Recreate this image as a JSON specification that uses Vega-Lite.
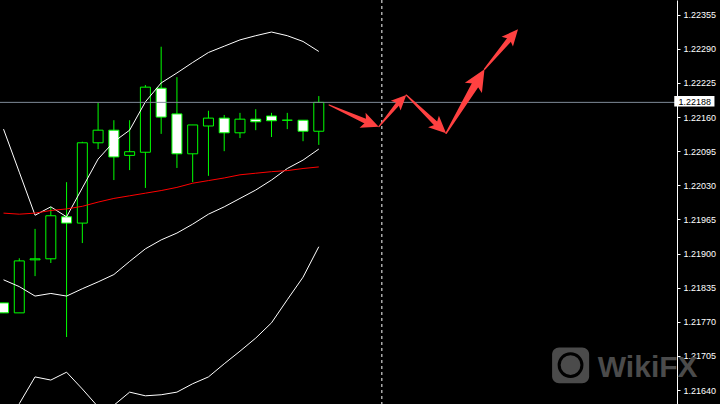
{
  "$schema": "https://vega.github.io/schema/vega-lite/v6.json",
  "width": 677,
  "height": 404,
  "autosize": {"type": "none"},
  "padding": {"left": 0, "top": 0, "right": 43, "bottom": 0},
  "background": "#000000",
  "config": {
    "view": {"stroke": null},
    "axis": {"grid": false, "domainColor": "#ffffff", "tickColor": "#ffffff", "tickSize": 3, "labelColor": "#ffffff", "labelFont": "Liberation Sans", "labelFontSize": 9, "labelPadding": 3, "labelFlush": false, "labelOverlap": false, "zindex": 1}
  },
  "datasets": {
    "candles": [
      {"k": -1, "o": 1.21806, "h": 1.21806, "l": 1.21787, "c": 1.21787},
      {"k": 0, "o": 1.21787, "h": 1.21891, "l": 1.21787, "c": 1.21886},
      {"k": 1, "o": 1.21888, "h": 1.21947, "l": 1.21857, "c": 1.2189},
      {"k": 2, "o": 1.2189, "h": 1.21989, "l": 1.21882, "c": 1.21972},
      {"k": 3, "o": 1.2197, "h": 1.22036, "l": 1.21741, "c": 1.21958},
      {"k": 4, "o": 1.21958, "h": 1.22113, "l": 1.2192, "c": 1.22111},
      {"k": 5, "o": 1.22111, "h": 1.22187, "l": 1.22099, "c": 1.22135},
      {"k": 6, "o": 1.22135, "h": 1.22154, "l": 1.2204, "c": 1.22084},
      {"k": 7, "o": 1.22087, "h": 1.22154, "l": 1.22059, "c": 1.22094},
      {"k": 8, "o": 1.22093, "h": 1.22221, "l": 1.22025, "c": 1.22217},
      {"k": 9, "o": 1.22215, "h": 1.22294, "l": 1.22128, "c": 1.2216},
      {"k": 10, "o": 1.22166, "h": 1.22236, "l": 1.22063, "c": 1.2209},
      {"k": 11, "o": 1.2209, "h": 1.22145, "l": 1.22036, "c": 1.22145},
      {"k": 12, "o": 1.22143, "h": 1.22172, "l": 1.22048, "c": 1.22158},
      {"k": 13, "o": 1.22158, "h": 1.22164, "l": 1.22095, "c": 1.2213},
      {"k": 14, "o": 1.2213, "h": 1.22168, "l": 1.2212, "c": 1.22156},
      {"k": 15, "o": 1.22156, "h": 1.22175, "l": 1.22135, "c": 1.22151},
      {"k": 16, "o": 1.22162, "h": 1.22168, "l": 1.22122, "c": 1.22153},
      {"k": 17, "o": 1.22154, "h": 1.22168, "l": 1.22137, "c": 1.22154},
      {"k": 18, "o": 1.22154, "h": 1.22154, "l": 1.22114, "c": 1.22133},
      {"k": 19, "o": 1.22133, "h": 1.222, "l": 1.22107, "c": 1.22188}
    ],
    "bands": [
      {"k": -1, "up": 1.22137, "mid": 1.2185, "lo": 1.2156, "ma": 1.21977},
      {"k": 0, "up": 1.22055, "mid": 1.21837, "lo": 1.21614, "ma": 1.21975},
      {"k": 1, "up": 1.21973, "mid": 1.21819, "lo": 1.21665, "ma": 1.21977},
      {"k": 2, "up": 1.21989, "mid": 1.21824, "lo": 1.21659, "ma": 1.21982},
      {"k": 3, "up": 1.2197, "mid": 1.21819, "lo": 1.21674, "ma": 1.21985},
      {"k": 4, "up": 1.22025, "mid": 1.21833, "lo": 1.21642, "ma": 1.2199},
      {"k": 5, "up": 1.2208, "mid": 1.21846, "lo": 1.21608, "ma": 1.21998},
      {"k": 6, "up": 1.22113, "mid": 1.2186, "lo": 1.21611, "ma": 1.22005},
      {"k": 7, "up": 1.22135, "mid": 1.21885, "lo": 1.21636, "ma": 1.2201},
      {"k": 8, "up": 1.22189, "mid": 1.21909, "lo": 1.21629, "ma": 1.22015},
      {"k": 9, "up": 1.22225, "mid": 1.21926, "lo": 1.21631, "ma": 1.2202},
      {"k": 10, "up": 1.22244, "mid": 1.21939, "lo": 1.21636, "ma": 1.22026},
      {"k": 11, "up": 1.22264, "mid": 1.21956, "lo": 1.21652, "ma": 1.22034},
      {"k": 12, "up": 1.22283, "mid": 1.21975, "lo": 1.21665, "ma": 1.22039},
      {"k": 13, "up": 1.22295, "mid": 1.21989, "lo": 1.2169, "ma": 1.22044},
      {"k": 14, "up": 1.22307, "mid": 1.22005, "lo": 1.21714, "ma": 1.2205},
      {"k": 15, "up": 1.22315, "mid": 1.22021, "lo": 1.21739, "ma": 1.22053},
      {"k": 16, "up": 1.22322, "mid": 1.2204, "lo": 1.21768, "ma": 1.22056},
      {"k": 17, "up": 1.22315, "mid": 1.22062, "lo": 1.21812, "ma": 1.22058},
      {"k": 18, "up": 1.22304, "mid": 1.22078, "lo": 1.21855, "ma": 1.22062},
      {"k": 19, "up": 1.22285, "mid": 1.22099, "lo": 1.21913, "ma": 1.22065}
    ],
    "shafts": [
      {"a": 1, "i": 0, "k": 19.656, "p": 1.22183, "w": 1.2},
      {"a": 1, "i": 1, "k": 22.094, "p": 1.221504, "w": 5},
      {"a": 2, "i": 0, "k": 22.8125, "p": 1.22142, "w": 1.2},
      {"a": 2, "i": 1, "k": 24.0875, "p": 1.221879, "w": 4.5},
      {"a": 3, "i": 0, "k": 24.55, "p": 1.22202, "w": 1.2},
      {"a": 3, "i": 1, "k": 26.525, "p": 1.221447, "w": 5},
      {"a": 4, "i": 0, "k": 27.075, "p": 1.221291, "w": 1.5},
      {"a": 4, "i": 1, "k": 29.025, "p": 1.222264, "w": 8},
      {"a": 5, "i": 0, "k": 29.5125, "p": 1.22251, "w": 1.5},
      {"a": 5, "i": 1, "k": 31.169, "p": 1.223106, "w": 5.5}
    ],
    "heads": [
      {"a": 1, "k": 22.8, "p": 1.221416, "hl": 17.4, "hd": 112},
      {"a": 2, "k": 24.55, "p": 1.22202, "hl": 15, "hd": 45},
      {"a": 3, "k": 27.075, "p": 1.221291, "hl": 17.2, "hd": 133},
      {"a": 4, "k": 29.5125, "p": 1.22251, "hl": 21.6, "hd": 31},
      {"a": 5, "k": 31.6375, "p": 1.223272, "hl": 16.4, "hd": 41}
    ]
  },
  "resolve": {"scale": {"size": "independent"}},
  "layer": [
    {
      "data": {"values": [{"k": 23}]},
      "mark": {"type": "rule", "color": "#ffffff", "strokeWidth": 1, "strokeDash": [3, 3]},
      "encoding": {
        "x": {"field": "k", "type": "quantitative", "scale": {"domain": [-0.90625, 41.40625], "nice": false, "zero": false}, "axis": null}
      }
    },
    {
      "data": {"name": "candles"},
      "mark": {"type": "rule", "color": "#00ff00", "strokeWidth": 1},
      "encoding": {
        "x": {"field": "k", "type": "quantitative", "scale": {"domain": [-0.90625, 41.40625], "nice": false, "zero": false}, "axis": null},
        "y": {"field": "l", "type": "quantitative", "scale": {"domain": [1.216134, 1.22383], "nice": false, "zero": false},
              "axis": {"orient": "right", "title": null, "format": ".5f", "values": [1.2164, 1.21705, 1.2177, 1.21835, 1.219, 1.21965, 1.2203, 1.22095, 1.2216, 1.22225, 1.2229, 1.22355]}},
        "y2": {"field": "h"}
      }
    },
    {
      "data": {"name": "candles"},
      "mark": {"type": "bar", "width": 10, "stroke": "#00ff00", "strokeWidth": 1},
      "encoding": {
        "x": {"field": "k", "type": "quantitative", "scale": {"domain": [-0.90625, 41.40625], "nice": false, "zero": false}, "axis": null},
        "y": {"field": "o", "type": "quantitative", "scale": {"domain": [1.216134, 1.22383], "nice": false, "zero": false},
              "axis": {"orient": "right", "title": null, "format": ".5f", "values": [1.2164, 1.21705, 1.2177, 1.21835, 1.219, 1.21965, 1.2203, 1.22095, 1.2216, 1.22225, 1.2229, 1.22355]}},
        "y2": {"field": "c"},
        "fill": {"condition": {"test": "datum.c > datum.o", "value": "#000000"}, "value": "#ffffff"}
      }
    },
    {
      "data": {"name": "bands"},
      "mark": {"type": "line", "color": "#ffffff", "strokeWidth": 1},
      "encoding": {
        "x": {"field": "k", "type": "quantitative", "scale": {"domain": [-0.90625, 41.40625], "nice": false, "zero": false}, "axis": null},
        "y": {"field": "up", "type": "quantitative", "scale": {"domain": [1.216134, 1.22383], "nice": false, "zero": false},
              "axis": {"orient": "right", "title": null, "format": ".5f", "values": [1.2164, 1.21705, 1.2177, 1.21835, 1.219, 1.21965, 1.2203, 1.22095, 1.2216, 1.22225, 1.2229, 1.22355]}}
      }
    },
    {
      "data": {"name": "bands"},
      "mark": {"type": "line", "color": "#ffffff", "strokeWidth": 1},
      "encoding": {
        "x": {"field": "k", "type": "quantitative", "scale": {"domain": [-0.90625, 41.40625], "nice": false, "zero": false}, "axis": null},
        "y": {"field": "mid", "type": "quantitative", "scale": {"domain": [1.216134, 1.22383], "nice": false, "zero": false},
              "axis": {"orient": "right", "title": null, "format": ".5f", "values": [1.2164, 1.21705, 1.2177, 1.21835, 1.219, 1.21965, 1.2203, 1.22095, 1.2216, 1.22225, 1.2229, 1.22355]}}
      }
    },
    {
      "data": {"name": "bands"},
      "mark": {"type": "line", "color": "#ffffff", "strokeWidth": 1},
      "encoding": {
        "x": {"field": "k", "type": "quantitative", "scale": {"domain": [-0.90625, 41.40625], "nice": false, "zero": false}, "axis": null},
        "y": {"field": "lo", "type": "quantitative", "scale": {"domain": [1.216134, 1.22383], "nice": false, "zero": false},
              "axis": {"orient": "right", "title": null, "format": ".5f", "values": [1.2164, 1.21705, 1.2177, 1.21835, 1.219, 1.21965, 1.2203, 1.22095, 1.2216, 1.22225, 1.2229, 1.22355]}}
      }
    },
    {
      "data": {"name": "bands"},
      "mark": {"type": "line", "color": "#ff0000", "strokeWidth": 1},
      "encoding": {
        "x": {"field": "k", "type": "quantitative", "scale": {"domain": [-0.90625, 41.40625], "nice": false, "zero": false}, "axis": null},
        "y": {"field": "ma", "type": "quantitative", "scale": {"domain": [1.216134, 1.22383], "nice": false, "zero": false},
              "axis": {"orient": "right", "title": null, "format": ".5f", "values": [1.2164, 1.21705, 1.2177, 1.21835, 1.219, 1.21965, 1.2203, 1.22095, 1.2216, 1.22225, 1.2229, 1.22355]}}
      }
    },
    {
      "data": {"values": [{"p": 1.22188}]},
      "mark": {"type": "rule", "color": "#7f8b98", "strokeWidth": 1},
      "encoding": {
        "y": {"field": "p", "type": "quantitative", "scale": {"domain": [1.216134, 1.22383], "nice": false, "zero": false},
              "axis": {"orient": "right", "title": null, "format": ".5f", "values": [1.2164, 1.21705, 1.2177, 1.21835, 1.219, 1.21965, 1.2203, 1.22095, 1.2216, 1.22225, 1.2229, 1.22355]}}
      }
    },
    {
      "data": {"name": "shafts"},
      "mark": {"type": "trail", "color": "#ff4141"},
      "encoding": {
        "x": {"field": "k", "type": "quantitative", "scale": {"domain": [-0.90625, 41.40625], "nice": false, "zero": false}, "axis": null},
        "y": {"field": "p", "type": "quantitative", "scale": {"domain": [1.216134, 1.22383], "nice": false, "zero": false},
              "axis": {"orient": "right", "title": null, "format": ".5f", "values": [1.2164, 1.21705, 1.2177, 1.21835, 1.219, 1.21965, 1.2203, 1.22095, 1.2216, 1.22225, 1.2229, 1.22355]}},
        "size": {"field": "w", "type": "quantitative", "scale": {"domain": [0, 10], "range": [0, 10]}, "legend": null},
        "detail": {"field": "a", "type": "nominal"},
        "order": {"field": "i", "type": "quantitative"}
      }
    },
    {
      "data": {"name": "heads"},
      "mark": {"type": "point", "filled": true, "opacity": 1, "color": "#ff4141", "strokeWidth": 0, "shape": "M0,0 L0.46,1 L0,0.78 L-0.46,1 Z"},
      "encoding": {
        "x": {"field": "k", "type": "quantitative", "scale": {"domain": [-0.90625, 41.40625], "nice": false, "zero": false}, "axis": null},
        "y": {"field": "p", "type": "quantitative", "scale": {"domain": [1.216134, 1.22383], "nice": false, "zero": false},
              "axis": {"orient": "right", "title": null, "format": ".5f", "values": [1.2164, 1.21705, 1.2177, 1.21835, 1.219, 1.21965, 1.2203, 1.22095, 1.2216, 1.22225, 1.2229, 1.22355]}},
        "size": {"field": "hl", "type": "quantitative", "scale": {"type": "pow", "exponent": 2, "domain": [0, 30], "range": [0, 3600]}, "legend": null},
        "angle": {"field": "hd", "type": "quantitative", "scale": {"domain": [0, 360], "range": [0, 360]}}
      }
    },
    {
      "data": {"values": [{"k": 33.8, "k2": 36.15, "p": 1.21721, "p2": 1.21653}]},
      "mark": {"type": "rect", "color": "#4b4b4b", "cornerRadius": 7},
      "encoding": {
        "x": {"field": "k", "type": "quantitative", "scale": {"domain": [-0.90625, 41.40625], "nice": false, "zero": false}, "axis": null},
        "x2": {"field": "k2"},
        "y": {"field": "p", "type": "quantitative", "scale": {"domain": [1.216134, 1.22383], "nice": false, "zero": false},
              "axis": {"orient": "right", "title": null, "format": ".5f", "values": [1.2164, 1.21705, 1.2177, 1.21835, 1.219, 1.21965, 1.2203, 1.22095, 1.2216, 1.22225, 1.2229, 1.22355]}},
        "y2": {"field": "p2"}
      }
    },
    {
      "data": {"values": [{"k": 34.97, "p": 1.216875}]},
      "mark": {"type": "point", "shape": "circle", "size": 520, "filled": false, "stroke": "#000000", "strokeWidth": 3, "opacity": 1},
      "encoding": {
        "x": {"field": "k", "type": "quantitative", "scale": {"domain": [-0.90625, 41.40625], "nice": false, "zero": false}, "axis": null},
        "y": {"field": "p", "type": "quantitative", "scale": {"domain": [1.216134, 1.22383], "nice": false, "zero": false},
              "axis": {"orient": "right", "title": null, "format": ".5f", "values": [1.2164, 1.21705, 1.2177, 1.21835, 1.219, 1.21965, 1.2203, 1.22095, 1.2216, 1.22225, 1.2229, 1.22355]}}
      }
    },
    {
      "data": {"values": [{"k": 36.7, "p": 1.216648, "label": "WikiFX"}]},
      "mark": {"type": "text", "color": "#4b4b4b", "font": "Liberation Sans", "fontWeight": "bold", "fontSize": 30, "align": "left", "baseline": "alphabetic"},
      "encoding": {
        "x": {"field": "k", "type": "quantitative", "scale": {"domain": [-0.90625, 41.40625], "nice": false, "zero": false}, "axis": null},
        "y": {"field": "p", "type": "quantitative", "scale": {"domain": [1.216134, 1.22383], "nice": false, "zero": false},
              "axis": {"orient": "right", "title": null, "format": ".5f", "values": [1.2164, 1.21705, 1.2177, 1.21835, 1.219, 1.21965, 1.2203, 1.22095, 1.2216, 1.22225, 1.2229, 1.22355]}},
        "text": {"field": "label"}
      }
    },
    {
      "data": {"values": [{"k": 41.55, "k2": 44.1, "p": 1.222, "p2": 1.2218}]},
      "mark": {"type": "rect", "color": "#ffffff"},
      "encoding": {
        "x": {"field": "k", "type": "quantitative", "scale": {"domain": [-0.90625, 41.40625], "nice": false, "zero": false}, "axis": null},
        "x2": {"field": "k2"},
        "y": {"field": "p", "type": "quantitative", "scale": {"domain": [1.216134, 1.22383], "nice": false, "zero": false},
              "axis": {"orient": "right", "title": null, "format": ".5f", "values": [1.2164, 1.21705, 1.2177, 1.21835, 1.219, 1.21965, 1.2203, 1.22095, 1.2216, 1.22225, 1.2229, 1.22355]}},
        "y2": {"field": "p2"}
      }
    },
    {
      "data": {"values": [{"k": 42.85, "p": 1.22188, "label": "1.22188"}]},
      "mark": {"type": "text", "color": "#000000", "font": "Liberation Sans", "fontSize": 9, "align": "center", "baseline": "middle"},
      "encoding": {
        "x": {"field": "k", "type": "quantitative", "scale": {"domain": [-0.90625, 41.40625], "nice": false, "zero": false}, "axis": null},
        "y": {"field": "p", "type": "quantitative", "scale": {"domain": [1.216134, 1.22383], "nice": false, "zero": false},
              "axis": {"orient": "right", "title": null, "format": ".5f", "values": [1.2164, 1.21705, 1.2177, 1.21835, 1.219, 1.21965, 1.2203, 1.22095, 1.2216, 1.22225, 1.2229, 1.22355]}},
        "text": {"field": "label"}
      }
    }
  ]
}
